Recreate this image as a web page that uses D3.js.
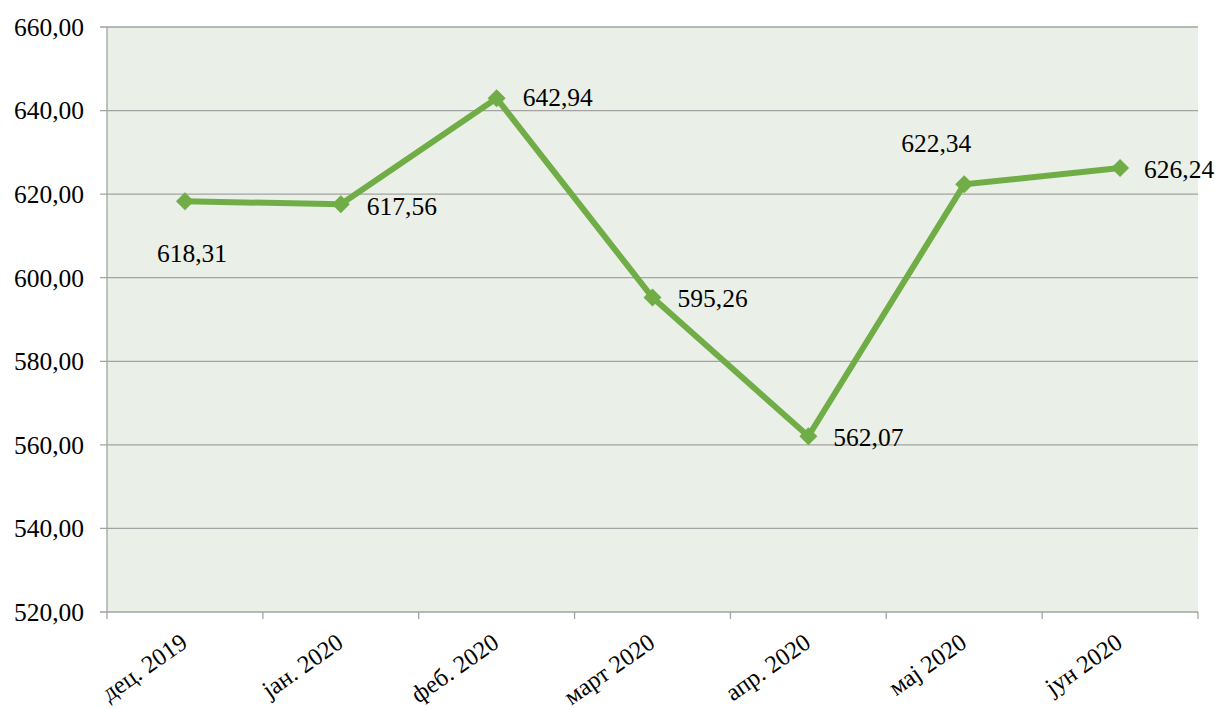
<!DOCTYPE html>
<html><head><meta charset="utf-8">
<script src="https://cdn.jsdelivr.net/npm/d3@7"></script>
<style>body{margin:0;background:#fff}svg{display:block}text{font-family:"Liberation Serif","Times New Roman",serif}</style>
</head><body><svg id="c" width="1219" height="709"></svg>
<script>
const categories = ["дец. 2019","јан. 2020","феб. 2020","март 2020","апр. 2020","мај 2020","јун 2020"];
const values = [618.31, 617.56, 642.94, 595.26, 562.07, 622.34, 626.24];
const valueLabels = ["618,31","617,56","642,94","595,26","562,07","622,34","626,24"];
const yTicks = [520,540,560,580,600,620,640,660];

const svg = d3.select("#c");
const L=107, R=1198, T=27, B=612;
const x = d3.scaleBand().domain(categories).range([L,R]);
const y = d3.scaleLinear().domain([520,660]).range([B,T]);
const fmt = v => v.toFixed(2).replace(".", ",");

svg.append("rect").attr("x",L).attr("y",T).attr("width",R-L).attr("height",B-T).attr("fill","#EAEFE7");

// gridlines
svg.append("g").selectAll("line").data(yTicks).join("line")
  .attr("x1",L-7).attr("x2",R).attr("y1",d=>y(d)).attr("y2",d=>y(d))
  .attr("stroke","#A3A3A3").attr("stroke-width",1.3);

// y labels
svg.append("g").selectAll("text").data(yTicks).join("text")
  .attr("x",84).attr("y",d=>y(d)).attr("dy","0.35em").attr("text-anchor","end")
  .attr("font-size",25.5).attr("fill","#000").text(fmt);

// axes lines
svg.append("line").attr("x1",L).attr("x2",L).attr("y1",T).attr("y2",B).attr("stroke","#A3A3A3").attr("stroke-width",1.3);
const bounds = categories.map(c=>x(c)).concat([R]);
svg.append("g").selectAll("line").data(bounds).join("line")
  .attr("x1",d=>d).attr("x2",d=>d).attr("y1",B).attr("y2",B+7)
  .attr("stroke","#A3A3A3").attr("stroke-width",1.3);

// x labels
svg.append("g").selectAll("text").data(categories).join("text")
  .attr("transform",d=>`translate(${x(d)+x.bandwidth()/2+4},${B+34}) rotate(-35)`)
  .attr("text-anchor","end").attr("font-size",24.5).attr("fill","#000").text(d=>d);

// line
const cx = d => x(d)+x.bandwidth()/2;
svg.append("path").datum(values.map((v,i)=>[cx(categories[i]),y(v)]))
  .attr("d",d3.line()).attr("fill","none").attr("stroke","#70AD47").attr("stroke-width",6).attr("stroke-linejoin","miter");

svg.append("g").selectAll("path").data(values).join("path")
  .attr("transform",(d,i)=>`translate(${cx(categories[i])},${y(d)})`)
  .attr("d","M0,-9L9,0L0,9L-9,0Z").attr("fill","#70AD47");

// value labels
const offs = [[-28,61],[26,11],[26,8],[25,9],[25,10],[-63,-32],[24,10]];
svg.append("g").selectAll("text").data(values).join("text")
  .attr("x",(d,i)=>cx(categories[i])+offs[i][0]).attr("y",(d,i)=>y(d)+offs[i][1])
  .attr("font-size",25.5).attr("fill","#000").text((d,i)=>valueLabels[i]);
</script></body></html>
